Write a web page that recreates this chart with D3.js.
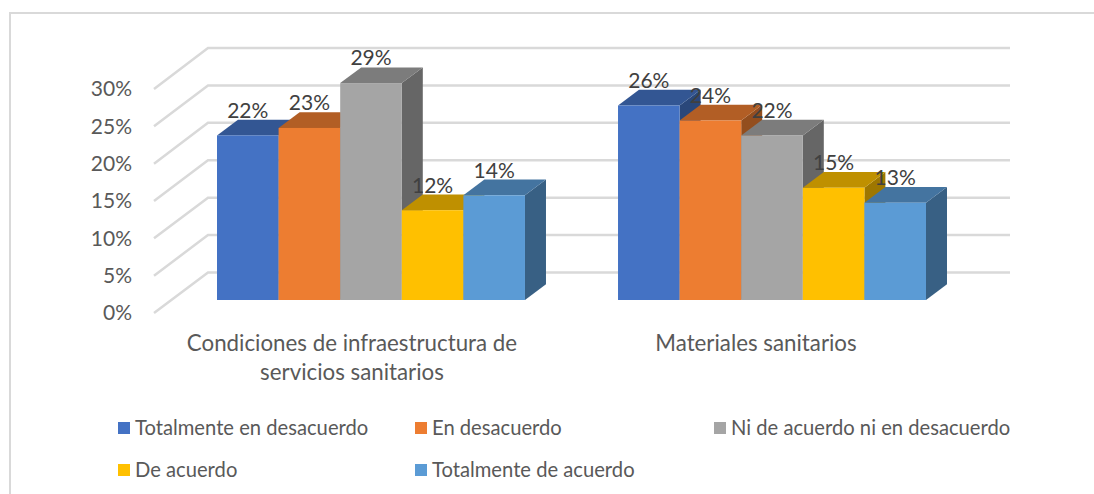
<!DOCTYPE html>
<html>
<head>
<meta charset="utf-8">
<script src="https://cdn.jsdelivr.net/npm/d3@7"></script>
<style>
  body { margin: 0; background: #fff; }
  text { font-family: Lato, sans-serif; }
</style>
</head>
<body>
<script>
// Chart data
var categories = ["Condiciones de infraestructura de servicios sanitarios", "Materiales sanitarios"];
var seriesNames = ["Totalmente en desacuerdo", "En desacuerdo", "Ni de acuerdo ni en desacuerdo", "De acuerdo", "Totalmente de acuerdo"];
var totalmenteEnDesacuerdo = [0.22, 0.26];
var enDesacuerdo = [0.23, 0.24];
var niDeAcuerdo = [0.29, 0.22];
var deAcuerdo = [0.12, 0.15];
var totalmenteDeAcuerdo = [0.14, 0.13];
var seriesValues = [totalmenteEnDesacuerdo, enDesacuerdo, niDeAcuerdo, deAcuerdo, totalmenteDeAcuerdo];
var tickValues = [0, 0.05, 0.1, 0.15, 0.2, 0.25, 0.3];

var colors = ["#4472C4", "#ED7D31", "#A5A5A5", "#FFC000", "#5B9BD5"];

var svgWidth = 1094;
var svgHeight = 494;

// Depth of the bars and of the side wall
var barDepth = { x: 21, y: 15.7 };
var wall = { left: 154, right: 208, end: 1010 };

var svg = d3.select("body")
  .append("svg")
  .attr("width", svgWidth)
  .attr("height", svgHeight)
  .style("display", "block");

// Frame of the chart, open on the right and at the bottom
svg.append("path")
  .attr("d", `M10,${svgHeight} V13 H${svgWidth}`)
  .attr("fill", "none")
  .attr("stroke", "#d9d9d9")
  .attr("stroke-width", 2);

// Scales: one for the bars, one for each end of the gridlines
var yBar = d3.scaleLinear().domain([0, 0.3]).range([300, 75.6]);
var yWall = d3.scaleLinear().domain([0, 0.3]).range([313, 89]);
var yBack = d3.scaleLinear().domain([0, 0.3]).range([272.5, 48]);

var xGroup = d3.scaleBand()
  .domain(categories)
  .range([217, 926])
  .paddingInner(0.232)
  .paddingOuter(0);

var xSeries = d3.scaleBand()
  .domain(seriesNames)
  .range([0, xGroup.bandwidth()]);

// Gridlines
var grid = svg.append("g")
  .attr("fill", "none")
  .attr("stroke", "#d9d9d9")
  .attr("stroke-width", 2.5);

grid.selectAll("path")
  .data(tickValues)
  .enter()
  .append("path")
  .attr("d", d => `M${wall.left},${yWall(d)} L${wall.right},${yBack(d)} H${wall.end}`);

// Value axis
var yAxis = d3.axisLeft(yWall)
  .tickValues(tickValues)
  .tickFormat(d3.format(".0%"))
  .tickSize(0)
  .tickPadding(0);

var yAxisGroup = svg.append("g")
  .attr("transform", "translate(132, 0)")
  .call(yAxis);

yAxisGroup.select(".domain").remove();
yAxisGroup.selectAll("text")
  .attr("font-size", 21)
  .attr("font-family", "Lato, sans-serif")
  .attr("fill", "#595959");

function shade(color, k) {
  var c = d3.rgb(color);
  return d3.rgb(c.r * k, c.g * k, c.b * k).formatHex();
}

// One flat record per bar, drawn left to right so the later fronts cover earlier sides
var bars = [];
categories.forEach(function(category, i) {
  seriesNames.forEach(function(name, s) {
    bars.push({ category: category, name: name, value: seriesValues[s][i], color: colors[s] });
  });
});

var barGroups = svg.selectAll(".bar")
  .data(bars)
  .enter()
  .append("g")
  .classed("bar", true)
  .attr("transform", d => `translate(${xGroup(d.category) + xSeries(d.name)}, 0)`);

var barWidth = xSeries.bandwidth();

barGroups.append("path")
  .attr("d", d => `M${barWidth},${yBar(d.value)} l${barDepth.x},${-barDepth.y} V${yBar(0) - barDepth.y} L${barWidth},${yBar(0)} Z`)
  .attr("fill", d => shade(d.color, 0.62));

barGroups.append("path")
  .attr("d", d => `M0,${yBar(d.value)} l${barDepth.x},${-barDepth.y} h${barWidth} l${-barDepth.x},${barDepth.y} Z`)
  .attr("fill", d => shade(d.color, 0.75));

barGroups.append("rect")
  .attr("y", d => yBar(d.value))
  .attr("width", barWidth)
  .attr("height", d => yBar(0) - yBar(d.value))
  .attr("fill", d => d.color);

// Data labels go on top of every bar
svg.selectAll(".value-label")
  .data(bars)
  .enter()
  .append("text")
  .classed("value-label", true)
  .attr("x", d => xGroup(d.category) + xSeries(d.name) + barWidth / 2)
  .attr("y", d => yBar(d.value) - 25)
  .attr("dy", "0.35em")
  .attr("text-anchor", "middle")
  .attr("font-size", 21)
  .attr("fill", "#404040")
  .text(d => d3.format(".0%")(d.value));

// Category labels, the first one wraps on two lines
var categoryLines = [["Condiciones de infraestructura de", "servicios sanitarios"], ["Materiales sanitarios"]];
var categoryCenters = [352, 756];

categoryLines.forEach(function(lines, i) {
  svg.selectAll(".cat" + i)
    .data(lines)
    .enter()
    .append("text")
    .attr("class", "cat" + i)
    .attr("x", categoryCenters[i])
    .attr("y", (d, j) => 343 + j * 29.5)
    .attr("dy", "0.35em")
    .attr("text-anchor", "middle")
    .attr("font-size", 22.3)
    .attr("fill", "#595959")
    .text(d => d);
});

// Legend
var legendX = [118, 415, 714, 118, 415];
var legendY = [428, 428, 428, 470, 470];

var legend = svg.selectAll(".legend")
  .data(seriesNames)
  .enter()
  .append("g")
  .classed("legend", true)
  .attr("transform", (d, i) => `translate(${legendX[i]}, ${legendY[i]})`);

legend.append("rect")
  .attr("y", -6)
  .attr("width", 12)
  .attr("height", 12)
  .attr("fill", (d, i) => colors[i]);

legend.append("text")
  .attr("x", 17)
  .attr("dy", "0.35em")
  .attr("font-size", 20.2)
  .attr("fill", "#595959")
  .text(d => d);
</script>
</body>
</html>
